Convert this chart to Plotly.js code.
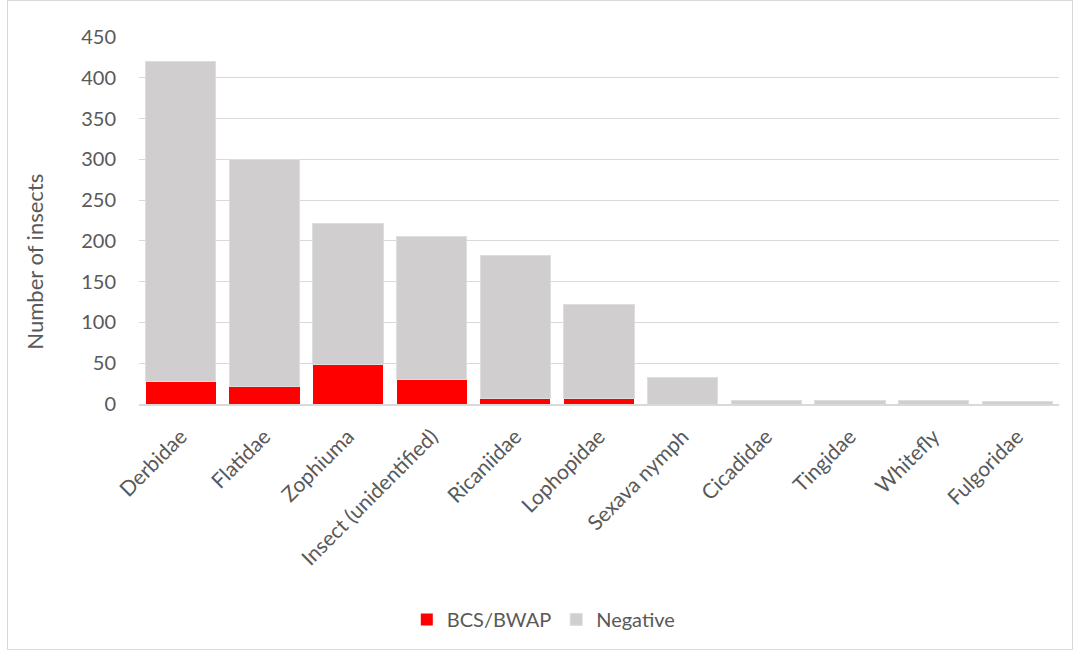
<!DOCTYPE html>
<html><head><meta charset="utf-8">
<script src="https://cdn.plot.ly/plotly-3.0.1.min.js"></script>
<style>
html,body{margin:0;padding:0;background:#fff;}
#frame{position:absolute;left:7px;top:0px;width:1066px;height:650px;border:1px solid #d9d9d9;box-sizing:border-box;}
#chart{position:absolute;left:0;top:0;width:1078px;height:654px;}
</style>
</head><body>
<div id="frame"></div>
<div id="chart"></div>
<script>
const categories = ["Derbidae","Flatidae","Zophiuma","Insect (unidentified)","Ricaniidae","Lophopidae","Sexava nymph","Cicadidae","Tingidae","Whitefly","Fulgoridae"];
const positive = [28, 22, 48, 30, 7, 7, 0, 0, 0, 0, 0];
const negative = [392, 278, 173, 175, 175, 115, 33, 4, 4, 4, 3];
const yTicks = [0, 50, 100, 150, 200, 250, 300, 350, 400, 450];

const fam = "Lato, 'Open Sans', sans-serif";
const grey = "#595959";

Plotly.newPlot("chart", [
  {type: "bar", name: "BCS/BWAP", x: categories, y: positive, marker: {color: "#ff0000"}},
  {type: "bar", name: "Negative", x: categories, y: negative, marker: {color: "#d0cece", line: {color: "#dedede", width: 1}}}
], {
  width: 1078, height: 654,
  barmode: "stack", bargap: 0.16,
  paper_bgcolor: "rgba(0,0,0,0)", plot_bgcolor: "rgba(0,0,0,0)",
  margin: {l: 139, r: 19, t: 37, b: 250},
  font: {family: fam, color: grey, size: 20},
  xaxis: {tickangle: -45, showgrid: false, showline: true, linecolor: "#d9d9d9", linewidth: 2, ticks: "",
          tickfont: {family: fam, color: grey, size: 21}, ticklabelstandoff: 10},
  yaxis: {range: [0, 450], tickvals: yTicks, showgrid: true, gridcolor: "#d9d9d9", gridwidth: 1, zeroline: false, ticks: "",
          tickfont: {family: fam, color: grey, size: 20}, ticklabelstandoff: 22},
  annotations: [{text: "Number of insects", textangle: -90, xref: "paper", yref: "paper",
                 x: -0.113, y: 0.388, xanchor: "center", yanchor: "middle", showarrow: false,
                 font: {family: fam, color: grey, size: 22}}],
  showlegend: true,
  legend: {orientation: "h", x: 0.44, xanchor: "center", y: -0.587, yanchor: "middle",
           font: {family: fam, color: grey, size: 20}, traceorder: "normal"}
}, {displayModeBar: false, staticPlot: true});
</script>
</body></html>
